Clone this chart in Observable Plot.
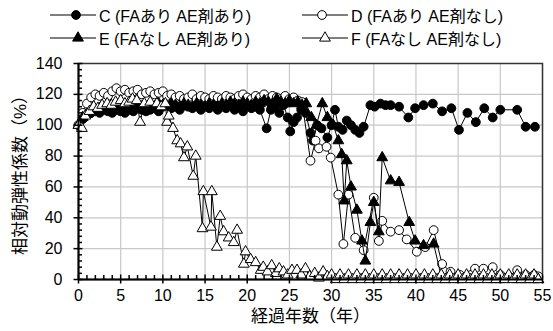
<!DOCTYPE html>
<html><head><meta charset="utf-8">
<script src="https://cdn.jsdelivr.net/npm/d3@7"></script>
<script src="https://cdn.jsdelivr.net/npm/@observablehq/plot@0.6"></script>
<style>
body{margin:0;background:#fff;font-family:"Liberation Sans",Arial,"Noto Sans CJK JP",sans-serif;}
#wrap{position:relative;width:553px;height:331px;}
#legend{position:relative;width:553px;height:55px;font-size:16px;color:#000;}
.item{position:absolute;display:flex;align-items:center;height:20px;}
.item svg{display:block;margin-right:3px;}
#ylab{position:absolute;left:20px;top:171px;transform:translate(-50%,-50%) rotate(-90deg);white-space:nowrap;font-size:17px;line-height:1;}
</style></head>
<body>
<div id="wrap">
<div id="legend"></div>
<div id="chart"></div>
<div id="ylab"></div>
</div>
<script>
// ---- data ----
const seriesNames = ["C (FAあり AE剤あり)", "D (FAあり AE剤なし)", "E (FAなし AE剤あり)", "F (FAなし AE剤なし)"];
const xLabel = "経過年数（年）";
const yLabel = "相対動弾性係数（%）";
const xTicks = [0, 5, 10, 15, 20, 25, 30, 35, 40, 45, 50, 55];
const yTicks = [0, 20, 40, 60, 80, 100, 120, 140];

const cYears = [0,0.5,1,1.5,2,2.5,3,3.5,4,4.5,5,5.5,6,6.5,7,7.5,8,8.5,9,9.5,10,10.5,11,11.5,12,12.5,13,13.5,14,14.5,15,15.5,16,16.5,17,17.5,18,18.5,19,19.5,20,20.5,21,21.5,22.3,22.8,23.3,23.8,24.3,24.8,25.1,25.5,25.9,26.4,26.9,27.5,27.8,28.3,28.8,29.5,30,30.4,30.8,31.3,31.8,32.3,32.8,33.3,33.8,34.6,35.1,35.8,36.4,37,38,39.1,39.9,40.9,42,43.1,44.2,45.1,46.1,47.1,48.1,49.1,50,52,53,54.1];
const cValues = [100,104,107,108,109,108,110,109,108,110,109,108,110,109,111,110,109,110,111,109,112,113,111,112,110,113,112,111,113,110,112,111,113,110,112,111,113,110,112,109,113,111,112,110,98,110,112,108,113,105,96,102,105,110,108,95,90,100,98,92,100,110,99,97,103,100,97,95,99,113,112,114,113,113,112,105,111,113,114,109,111,97,108,102,111,105,110,110,99,99];

const dYears = [0,0.5,1,1.5,2,2.5,3,3.5,4,4.5,5,5.5,6,6.5,7,7.5,8,8.5,9,9.5,10,10.5,11,11.5,12,12.5,13,13.5,14,14.5,15,15.5,16,16.5,17,17.5,18,18.5,19,19.5,20,20.5,21,21.5,22,22.5,23,23.5,24,24.5,25,25.5,26,26.5,27.5,28.1,28.5,29.4,29.9,30.8,31.4,32,32.8,33.8,35,35.6,36,37,38,38.9,40.1,41.1,42.1,43.1,44.1,45.2,47,48,49.1,50,51,52,53,54,54.5];
const dValues = [100,108,114,118,120,119,121,119,122,124,122,123,121,122,123,120,121,122,120,121,122,119,120,118,119,117,118,120,117,119,118,117,119,118,117,119,118,117,119,120,118,117,119,118,120,117,119,118,117,119,117,118,116,115,77,90,85,86,79,55,23,55,27,19,53,25,38,31,32,26,18,21,32,10,5,3,7,7,8,3,2,6,3,3,2];

const eYears = [0,0.5,1,1.5,2,2.5,3,3.5,4,4.5,5,5.5,6,6.5,7,7.5,8,8.5,9,9.5,10,10.5,11,11.5,12,12.5,13,13.5,14,14.5,15,15.5,16,16.5,17,17.5,18,18.5,19,19.5,20,20.5,21,21.5,22,22.5,23,23.5,24,24.5,25,25.5,26,26.5,27,27.6,28.2,28.9,29.5,30.2,30.8,31.2,31.5,31.8,32.3,33,33.6,34,34.6,35,35.6,36,37,38,39.2,39.9,40.9,42.1,43,43.5,44,45,46,47,48,49,50,51,52,53,54,54.5];
const eValues = [100,105,107,109,110,111,110,112,111,110,112,113,111,112,113,112,111,113,112,114,113,112,114,113,112,114,113,112,114,113,112,114,113,112,114,113,115,114,113,115,114,113,115,114,116,115,114,117,115,114,116,114,115,113,114,105,100,114,105,100,90,81,51,77,60,45,25,12,37,50,31,79,64,63,37,25,22,23,2,0,1,0,1,0,1,0,0,1,0,0,0,0];

const fYears = [0,0.4,0.8,1.3,1.8,2.3,2.8,3.4,3.9,4.4,5,5.5,6,6.4,6.9,7.3,7.8,8.5,9.3,9.8,10.3,10.5,10.7,11.2,11.7,12.1,12.5,12.9,13.6,13.9,14.7,14.8,15.7,15.8,16.4,16.8,17.2,17.8,18.4,18.8,19.6,19.8,20.4,21,21.6,21.9,22.4,22.9,23.4,23.8,24.3,24.8,25.3,25.9,26.4,26.9,27.4,28,28.5,29,29.5,30,30.5,31,31.5,32,32.5,33,33.5,34,34.5,35,35.5,36,36.5,37,37.5,38,38.5,39,39.5,40,40.5,41,41.5,42,42.5,43,43.5,44,44.5,45,45.5,46,46.5,47,47.5,48,48.5,49,49.5,50,50.5,51,51.5,52,52.5,53,53.5,54,54.5];
const fValues = [100,98,106,109,112,111,113,114,113,115,116,114,115,117,116,102,114,115,114,112,114,102,106,98,90,88,79,86,67,80,33,57,34,57,21,41,31,27,24,32,10,18,13,11,6,8,5,9,4,7,5,3,6,6,3,7,2,4,1,5,2,3,0,3,0,3,0,3,0,3,0,3,0,3,0,3,0,3,0,3,0,3,0,3,0,3,0,3,0,3,0,3,0,3,0,3,0,3,0,3,0,3,0,3,0,3,0,3,0,3,0,3];

const xMinor = [1,2,3,4,6,7,8,9,11,12,13,14,16,17,18,19,21,22,23,24,26,27,28,29,31,32,33,34,36,37,38,39,41,42,43,44,46,47,48,49,51,52,53,54];
const yMinor = [4,8,12,16,24,28,32,36,44,48,52,56,64,68,72,76,84,88,92,96,104,108,112,116,124,128,132,136];

// ---- build table ----
const zip = (name, xs, ys) => xs.map((x, i) => ({series: name, year: x, value: ys[i]}));
const C = zip(seriesNames[0], cYears, cValues);
const D = zip(seriesNames[1], dYears, dValues);
const E = zip(seriesNames[2], eYears, eValues);
const F = zip(seriesNames[3], fYears, fValues);

const styles = [
  {data: C, symbol: "circle", fill: "black", r: 4.4},
  {data: D, symbol: "circle", fill: "white", r: 4.4},
  {data: E, symbol: "triangle", fill: "black", r: 4.0},
  {data: F, symbol: "triangle", fill: "white", r: 4.0}
];

const marks = [
  Plot.gridX(xTicks, {stroke: "#c8c8c8", strokeOpacity: 1, strokeWidth: 1.2}),
  Plot.gridY(yTicks, {stroke: "#c8c8c8", strokeOpacity: 1, strokeWidth: 1.2}),
  Plot.frame({stroke: "#333", strokeWidth: 1.5}),
];
for (const s of styles) {
  marks.push(Plot.line(s.data, {x: "year", y: "value", stroke: "black", strokeWidth: 1}));
  marks.push(Plot.dot(s.data, {x: "year", y: "value", symbol: () => s.symbol, r: s.r, fill: s.fill, stroke: "black", strokeWidth: 1}));
}
marks.push(
  Plot.ruleX([0], {stroke: "black", strokeWidth: 2}),
  Plot.ruleY([0], {stroke: "black", strokeWidth: 2}),
  // y ticks
  Plot.axisY(yMinor, {anchor: "left", tickSize: 4, dx: 4, text: null, strokeWidth: 1.5, label: null}),
  Plot.axisY(yTicks, {anchor: "left", tickSize: 9, dx: 4.5, text: null, strokeWidth: 1.5, label: null}),
  Plot.axisY(yTicks, {anchor: "left", tickSize: 0, tickPadding: 16, fontSize: 16, label: null}),
  // x ticks
  Plot.axisX(xMinor, {anchor: "bottom", tickSize: 4, dy: -4, text: null, strokeWidth: 1.5, label: null}),
  Plot.axisX(xTicks, {anchor: "bottom", tickSize: 9, dy: -4.5, text: null, strokeWidth: 1.5, label: null}),
  Plot.axisX(xTicks, {anchor: "bottom", tickSize: 0, tickPadding: 10, fontSize: 16, label: null}),
  Plot.text([xLabel], {frameAnchor: "bottom", dy: 42, fontSize: 17, text: d => d})
);

const chart = Plot.plot({
  width: 553,
  height: 276,
  marginLeft: 78,
  marginRight: 11,
  marginTop: 8,
  marginBottom: 52,
  style: {fontFamily: '"Liberation Sans", Arial, "Noto Sans CJK JP", sans-serif', fontSize: "16px", color: "black", background: "white"},
  x: {domain: [0, 55]},
  y: {domain: [0, 140]},
  marks
});
document.getElementById("chart").appendChild(chart);
document.getElementById("ylab").textContent = yLabel;

// ---- legend ----
const legendPos = [
  {left: 50, top: 5, cx: 26},
  {left: 302, top: 5, cx: 20},
  {left: 50, top: 28, cx: 28},
  {left: 302, top: 28, cx: 23}
];
const leg = document.getElementById("legend");
styles.forEach((s, i) => {
  const p = legendPos[i];
  const div = document.createElement("div");
  div.className = "item";
  div.style.left = p.left + "px";
  div.style.top = p.top + "px";
  const w = 46, cy = 10;
  let sym;
  if (s.symbol === "circle") {
    sym = `<circle cx="${p.cx}" cy="${cy}" r="4.4" fill="${s.fill}" stroke="black"/>`;
  } else {
    sym = `<path transform="translate(${p.cx},${cy})" d="${d3.symbol(d3.symbolTriangle, Math.PI * s.r * s.r)()}" fill="${s.fill}" stroke="black"/>`;
  }
  div.innerHTML = `<svg width="${w}" height="20"><line x1="0" x2="${w}" y1="${cy}" y2="${cy}" stroke="black" stroke-width="1"/>${sym}</svg><span>${seriesNames[i]}</span>`;
  leg.appendChild(div);
});
</script>
</body></html>
